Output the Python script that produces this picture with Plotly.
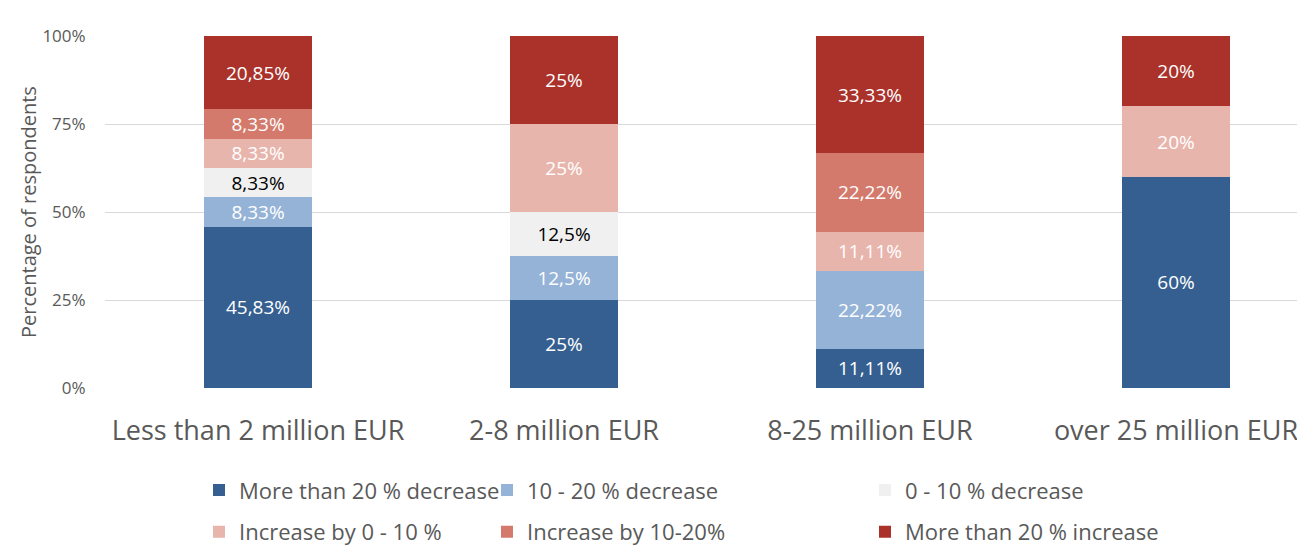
import plotly.graph_objects as go

categories = ["Less than 2 million EUR", "2-8 million EUR", "8-25 million EUR", "over 25 million EUR"]
series_names = ["More than 20 % decrease", "10 - 20 % decrease", "0 - 10 % decrease",
                "Increase by 0 - 10 %", "Increase by 10-20%", "More than 20 % increase"]
more20_decrease = [45.83, 25, 11.11, 60]
dec_10_20 = [8.33, 12.5, 22.22, 0]
dec_0_10 = [8.33, 12.5, 0, 0]
inc_0_10 = [8.33, 25, 11.11, 20]
inc_10_20 = [8.33, 0, 22.22, 0]
more20_increase = [20.85, 25, 33.33, 20]
series_values = [more20_decrease, dec_10_20, dec_0_10, inc_0_10, inc_10_20, more20_increase]
colors = ["#365F91", "#95B3D7", "#F0F0F0", "#E8B5AC", "#D47A6C", "#AA322A"]
text_colors = ["white", "white", "black", "white", "white", "white"]
legend_ids = ["legend", "legend2", "legend3", "legend", "legend2", "legend3"]
y_ticks = [0, 25, 50, 75, 100]
y_tick_labels = ["0%", "25%", "50%", "75%", "100%"]

FONT = "Open Sans"
GREY = "#595959"

# layout geometry (figure pixels)
L, T, B, W, H = 97, 28, 175, 1305, 555
PW = W - L  # plot width


def fmt(v):
    return "" if v == 0 else f"{v:g}".replace(".", ",") + "%"


fig = go.Figure()
for i, (name, vals, col, tcol, lg) in enumerate(zip(series_names, series_values, colors, text_colors, legend_ids)):
    fig.add_trace(go.Bar(
        x=categories, y=vals, name=name,
        marker=dict(color=col, line=dict(width=0)),
        text=[fmt(v) for v in vals],
        textposition="inside", insidetextanchor="middle",
        constraintext="none",
        textfont=dict(family=FONT, size=19, color=tcol),
        hoverinfo="skip",
        legend=lg, legendgroup=f"g{i}",
    ))

legend_common = dict(
    orientation="v", y=-0.231, yanchor="top", xanchor="left",
    traceorder="grouped", tracegroupgap=10, bgcolor="rgba(0,0,0,0)",
    font=dict(family=FONT, size=22, color=GREY),
)

fig.update_layout(
    barmode="stack",
    bargap=0.645,
    width=W, height=H,
    margin=dict(l=L, r=0, t=T, b=B),
    plot_bgcolor="white", paper_bgcolor="white",
    font=dict(family=FONT, color=GREY),
    uniformtext=dict(minsize=19, mode="show"),
    showlegend=True,
    legend=dict(x=(191 - L) / PW, **legend_common),
    legend2=dict(x=(479 - L) / PW, **legend_common),
    legend3=dict(x=(857 - L) / PW, **legend_common),
    annotations=[dict(
        text="Percentage of respondents", xref="paper", yref="paper",
        x=(20 - L) / PW, y=0.5, xanchor="center", yanchor="middle",
        textangle=-90, showarrow=False,
        font=dict(family=FONT, size=20, color=GREY),
    )],
)
fig.update_xaxes(
    range=[-0.5, -0.5 + PW / 306],
    showgrid=False, showline=False, zeroline=False,
    ticks="outside", ticklen=19, tickcolor="rgba(0,0,0,0)",
    tickfont=dict(family=FONT, size=27, color=GREY),
    automargin=False, fixedrange=True,
)
fig.update_yaxes(
    range=[0, 100],
    tickvals=y_ticks, ticktext=y_tick_labels,
    showgrid=True, gridcolor="#D9D9D9", gridwidth=1,
    zeroline=False, showline=False,
    ticks="outside", ticklen=15, tickcolor="rgba(0,0,0,0)",
    tickfont=dict(family=FONT, size=17, color=GREY),
    automargin=False, fixedrange=True,
)

fig.write_html("out.html")
